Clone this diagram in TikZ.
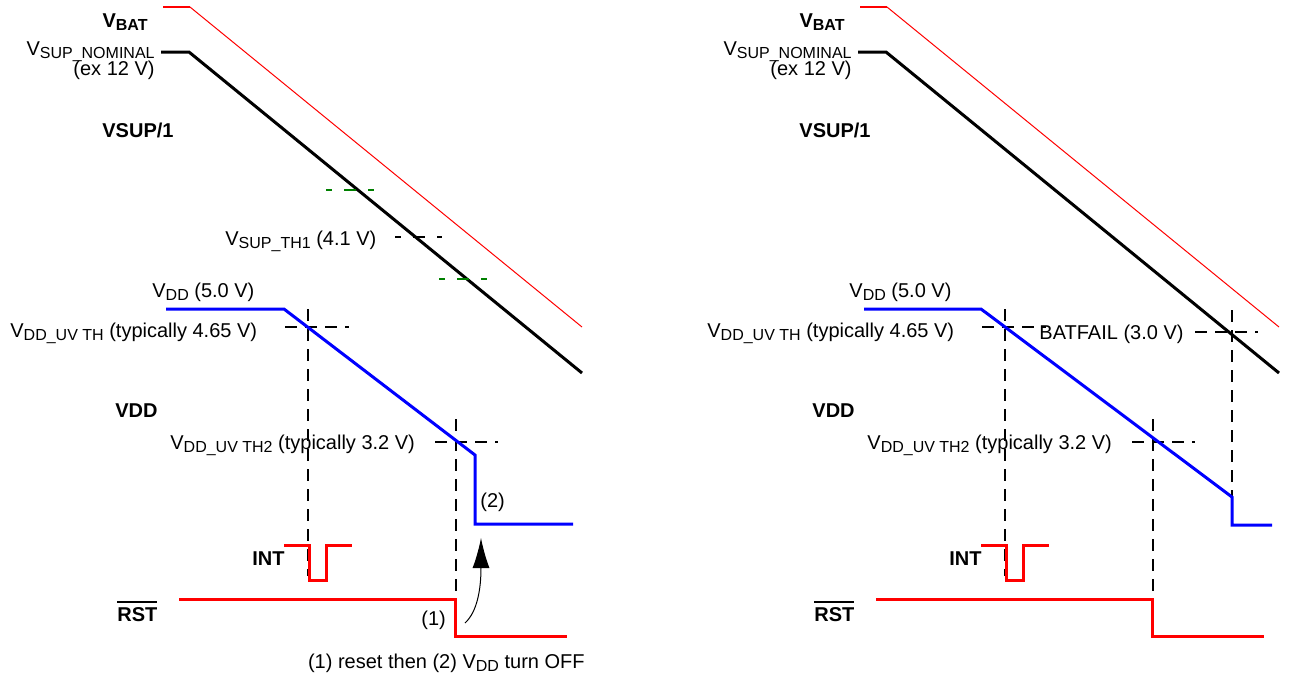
\documentclass[tikz,border=0pt]{standalone}
\usepackage{fontspec}
\setmainfont{Liberation Sans}
\usetikzlibrary{arrows.meta}

\newcommand{\vsub}[1]{\raisebox{-1.6pt}{\fontsize{8}{9.6}\selectfont #1}}
\newcommand{\ovl}[1]{\setbox0\hbox{#1}\rlap{\raisebox{\dimexpr\ht0+1.8pt\relax}{\rule{\wd0}{1pt}}}\box0}

\begin{document}
\begin{tikzpicture}[x=0.5pt,y=-0.5pt,
	lbl/.style={inner sep=0pt,font=\fontsize{10}{12}\selectfont},
	blbl/.style={inner sep=0pt,font=\fontsize{10}{12}\selectfont\bfseries},
	wvbat/.style={red,line width=0.5pt},
	wvsup/.style={black,line width=1.5pt},
	wvdd/.style={blue,line width=1.5pt},
	wvred/.style={red,line width=1.5pt},
	thline/.style={line width=1pt,dash pattern=on 6pt off 4pt},
	crossline/.style={line width=1pt,dash pattern=on 6pt off 6pt,dash phase=3pt}]
	\useasboundingbox (0,0) rectangle (1290,677);

	% parts shared by both panels
	\foreach \dx/\p in {0/L, 697/R}{
		\begin{scope}[shift={(\dx,0)}]
			\draw[wvbat,line width=1pt] (163,7) -- (190,7);
			\draw[wvbat] (190,7) -- (582,327);
			\draw[wvsup] (161,52) -- (189,52) -- (582,373);

			\draw[thline] (285,327) -- (349,327);
			\draw[thline] (308,309) -- (308,576);
			\draw[thline] (435,442) -- (498,442);
			\draw[thline] (456,419) -- (456,599);

			\draw[wvred] (284,545) -- (309,545) -- (309,580) -- (326,580) -- (326,545) -- (352,545);
			\draw[wvred] (179,599) -- (455,599) -- (455,636) -- (567,636);

			\node[blbl,anchor=base east] (vbat\p) at (148,27) {V\vsub{BAT}};
			\node[lbl,anchor=base east] (vsupn\p) at (155,55) {V\vsub{SUP\_NOMINAL}};
			\node[lbl,anchor=base east] (vsupex\p) at (155,75) {(ex 12 V)};
			\node[blbl,anchor=base west] (vsup\p) at (102,137) {VSUP/1};
			\node[lbl,anchor=base west] (vdd\p) at (152,297) {V\vsub{DD} (5.0 V)};
			\node[lbl,anchor=base west] (vddth\p) at (10,337) {V\vsub{DD\_UV TH} (typically 4.65 V)};
			\node[blbl,anchor=base west] (vddb\p) at (115,417) {VDD};
			\node[lbl,anchor=base west] (vddthb\p) at (170,449) {V\vsub{DD\_UV TH2} (typically 3.2 V)};
			\node[blbl,anchor=base west] (int\p) at (252,565) {INT};
			\node[blbl,anchor=base west] (rst\p) at (117,621) {\ovl{RST}};
		\end{scope}
	}

	% left panel
	\draw[crossline,green!50!black] (326,190) -- (374,190);
	\draw[crossline] (395,237) -- (442,237);
	\draw[crossline,green!50!black] (439,279) -- (487,279);
	\node[lbl,anchor=base west] (vsupth) at (225,245) {V\vsub{SUP\_TH1} (4.1 V)};
	\draw[wvdd] (166,309) -- (284,309) -- (475,455) -- (475,524) -- (573,524);
	\node[lbl,anchor=base west] (two) at (480,507) {(2)};
	\node[lbl,anchor=base west] (one) at (421,625) {(1)};
	\coordinate (arrS) at (465,623);
	\coordinate (arrE) at (481,538);
	\draw[-{Latex[length=15pt,width=8.5pt]},line width=0.5pt] (arrS) .. controls (477,612) and (481,590) .. (arrE);
	\node[lbl,anchor=base east] (note) at (585,668) {(1) reset then (2) V\vsub{DD} turn OFF};

	% right panel
	\draw[thline] (1232,310) -- (1232,497);
	\draw[thline] (1195,332) -- (1258,332);
	\draw[wvdd] (864,309) -- (981,309) -- (1232,497) -- (1232,525) -- (1272,525);
	\node[lbl,anchor=base west] (batfail) at (1039,339) {BATFAIL (3.0 V)};
\end{tikzpicture}
\end{document}
